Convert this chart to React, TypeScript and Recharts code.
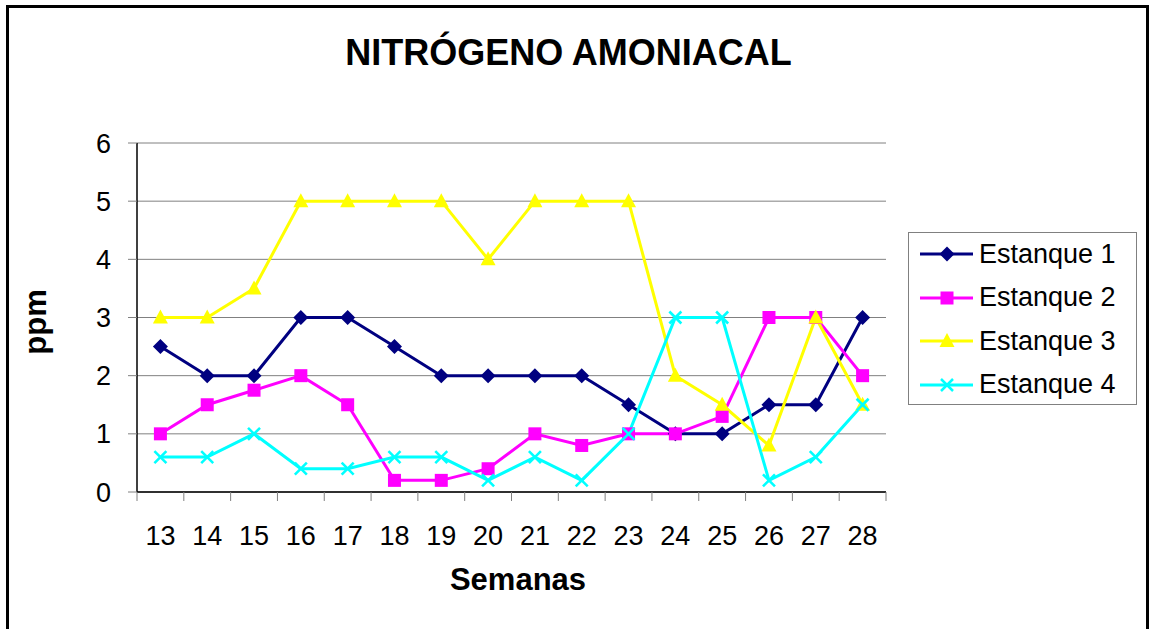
import React from 'react';
import { LineChart, Line, XAxis, YAxis, CartesianGrid } from 'recharts';

const semanas = ['13', '14', '15', '16', '17', '18', '19', '20', '21', '22', '23', '24', '25', '26', '27', '28'];
const estanque1 = [2.5, 2, 2, 3, 3, 2.5, 2, 2, 2, 2, 1.5, 1, 1, 1.5, 1.5, 3];
const estanque2 = [1, 1.5, 1.75, 2, 1.5, 0.2, 0.2, 0.4, 1, 0.8, 1, 1, 1.3, 3, 3, 2];
const estanque3 = [3, 3, 3.5, 5, 5, 5, 5, 4, 5, 5, 5, 2, 1.5, 0.8, 3, 1.5];
const estanque4 = [0.6, 0.6, 1, 0.4, 0.4, 0.6, 0.6, 0.2, 0.6, 0.2, 1, 3, 3, 0.2, 0.6, 1.5];
const yTicks = [0, 1, 2, 3, 4, 5, 6];

const data = semanas.map((s, i) => ({
  semana: s,
  e1: estanque1[i],
  e2: estanque2[i],
  e3: estanque3[i],
  e4: estanque4[i],
}));

const FONT = '"Liberation Sans", Arial, sans-serif';
const PLOT_W = 886 - 137;
const BAND = PLOT_W / semanas.length;

type Shape = 'diamond' | 'square' | 'triangle' | 'x';

function Marker({ cx, cy, shape, color }: { cx: number; cy: number; shape: Shape; color: string }) {
  if (cx == null || cy == null) return null;
  if (shape === 'diamond') {
    const r = 7.5;
    return <polygon points={`${cx},${cy - r} ${cx + r},${cy} ${cx},${cy + r} ${cx - r},${cy}`} fill={color} />;
  }
  if (shape === 'square') {
    return <rect x={cx - 6.5} y={cy - 6.5} width={13} height={13} fill={color} />;
  }
  if (shape === 'triangle') {
    return <polygon points={`${cx},${cy - 8} ${cx + 7.5},${cy + 6} ${cx - 7.5},${cy + 6}`} fill={color} />;
  }
  const r = 6;
  return (
    <g stroke={color} strokeWidth={2.5}>
      <line x1={cx - r} y1={cy - r} x2={cx + r} y2={cy + r} />
      <line x1={cx - r} y1={cy + r} x2={cx + r} y2={cy - r} />
    </g>
  );
}

const series: { key: string; name: string; color: string; shape: Shape }[] = [
  { key: 'e1', name: 'Estanque 1', color: '#000080', shape: 'diamond' },
  { key: 'e2', name: 'Estanque 2', color: '#FF00FF', shape: 'square' },
  { key: 'e3', name: 'Estanque 3', color: '#FFFF00', shape: 'triangle' },
  { key: 'e4', name: 'Estanque 4', color: '#00FFFF', shape: 'x' },
];

function XTick(props: any) {
  const { x, y, payload, index } = props;
  return (
    <g>
      <line x1={x - BAND / 2} y1={y} x2={x - BAND / 2} y2={y + 9} stroke="#808080" />
      {index === semanas.length - 1 && (
        <line x1={x + BAND / 2} y1={y} x2={x + BAND / 2} y2={y + 9} stroke="#808080" />
      )}
      <text x={x} y={y + 53} textAnchor="middle" fontSize={27} fontFamily={FONT} fill="#000">
        {payload.value}
      </text>
    </g>
  );
}

export default function App() {
  return (
    <div style={{ position: 'fixed', left: 0, top: 0, width: 1151, height: 629, background: '#fff', overflow: 'hidden', fontFamily: FONT }}>
      <div style={{
        position: 'absolute', left: 6, top: 5, width: 1143, height: 800,
        border: '3px solid #000', boxSizing: 'border-box',
      }} />
      <div style={{
        position: 'absolute', left: 0, width: 1151, top: 35, textAlign: 'center',
        fontSize: 36, fontWeight: 700, lineHeight: 1,
      }}>
        <span style={{ position: 'relative', left: -7 }}>NITRÓGENO AMONIACAL</span>
      </div>
      <LineChart width={1151} height={629} data={data}
        margin={{ top: 143, right: 265, bottom: 97, left: 77 }}
        style={{ position: 'absolute', left: 0, top: 0 }}>
        <CartesianGrid vertical={false} stroke="#808080" strokeWidth={1} />
        <XAxis dataKey="semana" height={40} tickLine={false} tickSize={0} tickMargin={0}
          padding={{ left: BAND / 2, right: BAND / 2 }}
          axisLine={{ stroke: '#000', strokeWidth: 1.5 }} tick={<XTick />} interval={0} />
        <YAxis width={60} domain={[0, 6]} ticks={yTicks} interval={0}
          tickSize={9} tickMargin={17}
          tickLine={{ stroke: '#808080' }}
          axisLine={{ stroke: '#000', strokeWidth: 1.5 }}
          tick={{ fontSize: 27, fontFamily: FONT, fill: '#000' }} />
        {series.map(s => (
          <Line key={s.key} dataKey={s.key} name={s.name} stroke={s.color} strokeWidth={3}
            isAnimationActive={false}
            dot={(p: any) => <Marker key={`${s.key}-${p.index}`} cx={p.cx} cy={p.cy} shape={s.shape} color={s.color} />}
            activeDot={false} />
        ))}
      </LineChart>
      <div style={{
        position: 'absolute', left: 35, top: 322, transform: 'translate(-50%, -50%) rotate(-90deg)',
        fontSize: 31, fontWeight: 700, lineHeight: 1, whiteSpace: 'nowrap',
      }}>ppm</div>
      <div style={{
        position: 'absolute', left: 518, top: 564, transform: 'translateX(-50%)',
        fontSize: 31, fontWeight: 700, lineHeight: 1, whiteSpace: 'nowrap',
      }}>Semanas</div>
      <div style={{
        position: 'absolute', left: 908, top: 232, width: 229, height: 173,
        border: '1px solid #808080', boxSizing: 'border-box',
      }}>
        {series.map((s, i) => (
          <div key={s.key} style={{ position: 'absolute', left: 0, top: i * 43.5, height: 42, width: 227, display: 'flex', alignItems: 'center' }}>
            <svg width={70} height={42} style={{ display: 'block' }}>
              <line x1={11} y1={21} x2={64} y2={21} stroke={s.color} strokeWidth={3} />
              <Marker cx={38} cy={21} shape={s.shape} color={s.color} />
            </svg>
            <span style={{ fontSize: 27, lineHeight: 1, color: '#000', whiteSpace: 'nowrap' }}>{s.name}</span>
          </div>
        ))}
      </div>
    </div>
  );
}
